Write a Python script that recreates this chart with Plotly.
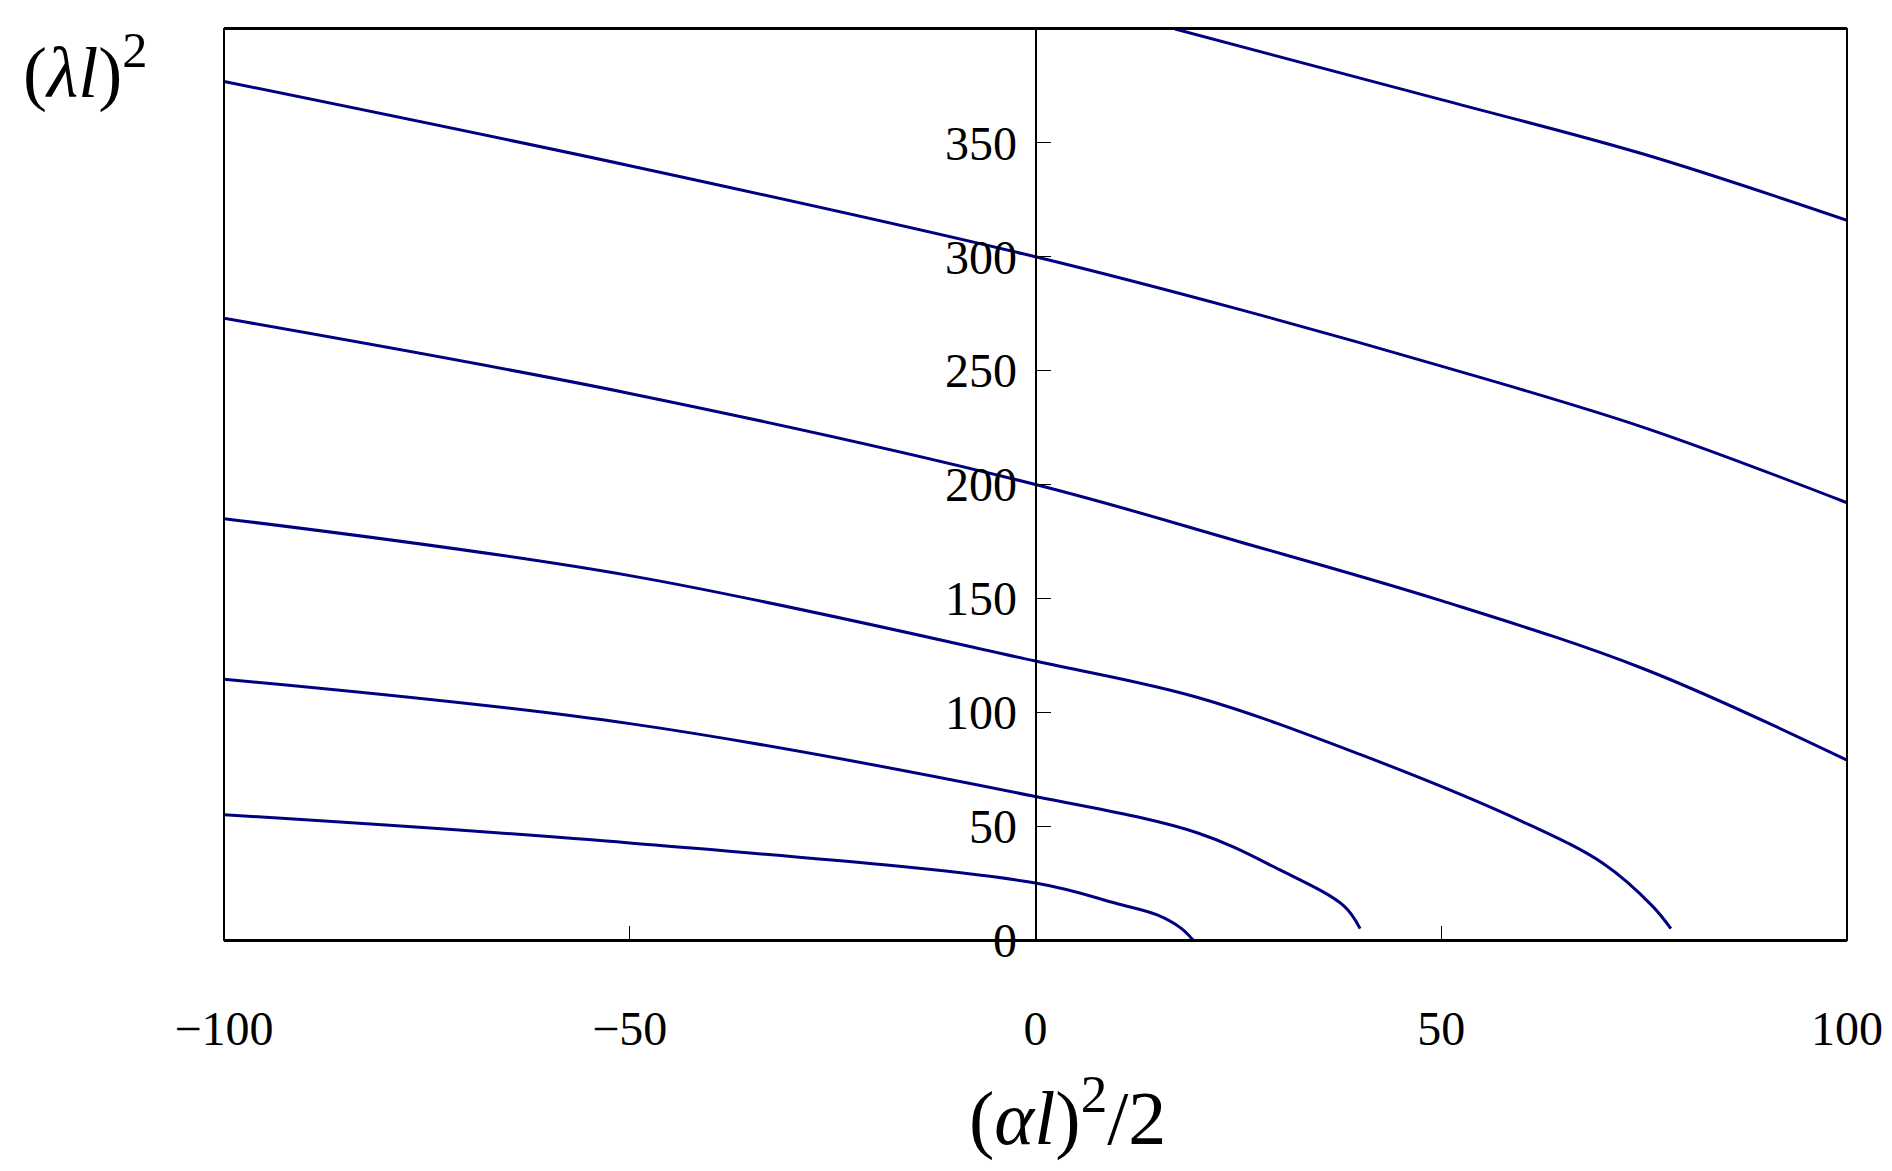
import plotly.graph_objects as go

c1_x = [-100, -50, 0, 10, 15, 18, 19.4]
c1_y = [55, 42.6, 25, 16, 11, 5, 0]
c2_x = [-100, -50, 0, 20, 30, 38, 40]
c2_y = [114.5, 95, 63, 47, 31, 15, 5]
c3_x = [-100, -50, 0, 20, 40, 60, 70, 76, 78.3]
c3_y = [185, 160, 122.5, 106.5, 81.5, 52, 33.5, 15, 5]
c4_x = [-100, -50, 0, 25, 50, 75, 100]
c4_y = [273, 240, 200, 175, 149, 119, 79]
c5_x = [-100, -50, 0, 25, 50, 75, 100]
c5_y = [377, 340, 300, 277, 252, 225, 192]
c6_x = [17.2, 50, 75, 100]
c6_y = [400, 369, 345, 316]
curves = [(c1_x, c1_y), (c2_x, c2_y), (c3_x, c3_y), (c4_x, c4_y), (c5_x, c5_y), (c6_x, c6_y)]

fig = go.Figure()
for xs, ys in curves:
    fig.add_trace(go.Scatter(x=xs, y=ys, mode="lines", line=dict(color="#000080", width=3, shape="spline", smoothing=1.0), showlegend=False))

font = dict(family="Liberation Serif", size=48, color="black")
fig.update_layout(
    width=1892, height=1171, margin=dict(l=216, r=53, t=21, b=239),
    plot_bgcolor="white", paper_bgcolor="white", font=font,
    xaxis=dict(range=[-100, 100], tickvals=[-100, -50, 0, 50, 100], ticktext=["\u2212100", "\u221250", "0", "50", "100"],
               ticks="inside", ticklen=14, tickcolor="black", showgrid=False, zeroline=True, zerolinecolor="black", zerolinewidth=2,
               ticklabelstandoff=45, showline=True, linecolor="black", linewidth=2, mirror=True),
    yaxis=dict(range=[0, 400.01], tickvals=[0, 50, 100, 150, 200, 250, 300, 350, 400], anchor="free", position=0.5,
               ticks="inside", ticklen=14, tickcolor="black", showgrid=False, zeroline=False, ticklabelstandoff=8,
               showline=True, linecolor="black", linewidth=2),
    shapes=[dict(type="rect", xref="paper", yref="paper", x0=0, x1=1, y0=0, y1=1, line=dict(color="black", width=2))],
    annotations=[
        dict(text="(<i>λl</i>)<sup>2</sup>", xref="paper", yref="paper", x=-0.125, y=1.01, xanchor="left", yanchor="top",
             showarrow=False, font=dict(family="Liberation Serif", size=72)),
        dict(text="(<i>αl</i>)<sup>2</sup>/2", xref="paper", yref="paper", x=0.52, y=-0.19, xanchor="center", yanchor="middle",
             showarrow=False, font=dict(family="Liberation Serif", size=76)),
    ],
)
fig.write_html("out.html")
